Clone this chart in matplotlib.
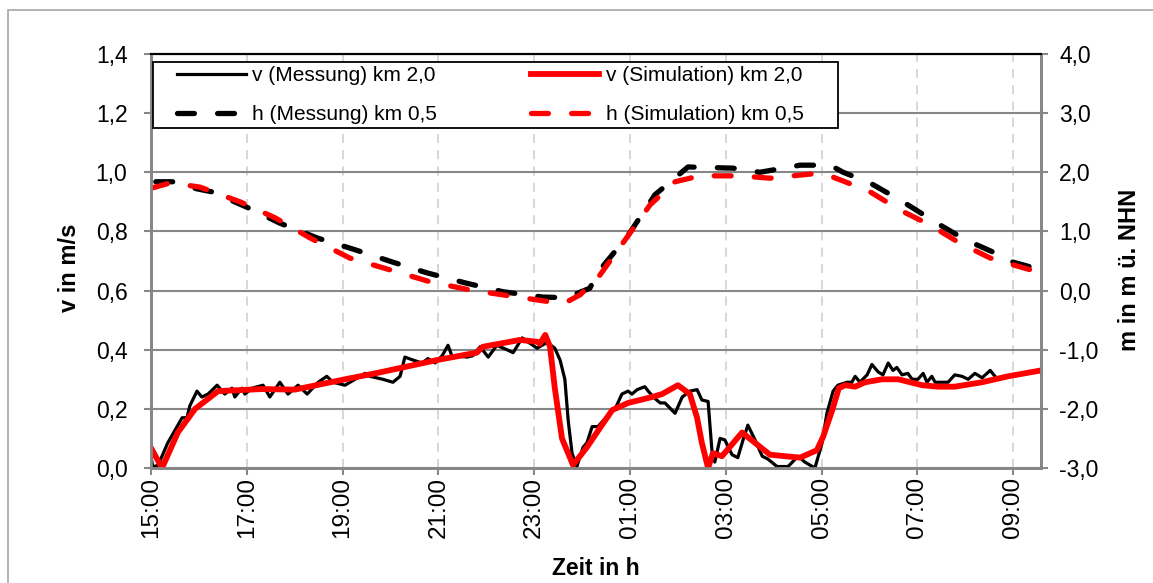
import matplotlib.pyplot as plt
from matplotlib.patches import Rectangle
from matplotlib.lines import Line2D

plt.rcParams['font.family'] = ['Liberation Sans', 'DejaVu Sans']

# Zeit in Stunden (15 = 15:00, Werte > 24 = Folgetag)
t_v_mess = [15.00, 15.04, 15.15, 15.35, 15.65, 15.75, 15.81, 15.96, 16.06, 16.19,
            16.38, 16.54, 16.69, 16.75, 16.90, 16.96, 17.11, 17.34, 17.48, 17.69,
            17.86, 18.07, 18.26, 18.49, 18.67, 18.80, 19.05, 19.26, 19.47, 19.57,
            19.84, 20.05, 20.20, 20.30, 20.47, 20.66, 20.78, 20.93, 21.08, 21.20,
            21.28, 21.60, 21.72, 21.87, 22.04, 22.22, 22.43, 22.56, 22.75, 23.06,
            23.27, 23.43, 23.54, 23.64, 23.71, 23.79, 23.89, 24.02, 24.10, 24.21,
            24.33, 24.44, 24.58, 24.69, 24.83, 24.96, 25.04, 25.15, 25.31, 25.38,
            25.52, 25.63, 25.73, 25.94, 26.09, 26.25, 26.40, 26.50, 26.63, 26.71,
            26.77, 26.88, 26.98, 27.13, 27.25, 27.36, 27.46, 27.61, 27.76, 27.88,
            28.07, 28.30, 28.51, 28.65, 28.86, 29.01, 29.11, 29.24, 29.34, 29.53,
            29.63, 29.70, 29.80, 29.95, 30.05, 30.18, 30.28, 30.39, 30.49, 30.57,
            30.68, 30.80, 30.89, 31.01, 31.12, 31.20, 31.30, 31.37, 31.64, 31.78,
            31.93, 32.06, 32.20, 32.35, 32.52, 32.62]
v_mess = [0.037, 0.003, 0.010, 0.085, 0.170, 0.170, 0.210, 0.260, 0.240, 0.250,
          0.280, 0.250, 0.270, 0.240, 0.270, 0.250, 0.270, 0.280, 0.240, 0.290,
          0.250, 0.280, 0.250, 0.290, 0.310, 0.290, 0.280, 0.300, 0.320, 0.310,
          0.300, 0.290, 0.310, 0.375, 0.365, 0.355, 0.370, 0.355, 0.380, 0.415,
          0.380, 0.375, 0.380, 0.410, 0.375, 0.415, 0.400, 0.390, 0.440, 0.405,
          0.425, 0.405, 0.365, 0.300, 0.160, 0.050, 0.005, 0.070, 0.085, 0.140,
          0.140, 0.160, 0.185, 0.200, 0.250, 0.260, 0.250, 0.265, 0.275, 0.260,
          0.235, 0.220, 0.220, 0.185, 0.240, 0.260, 0.265, 0.230, 0.225, 0.060,
          0.020, 0.100, 0.095, 0.045, 0.035, 0.095, 0.145, 0.095, 0.040, 0.030,
          0.005, 0.005, 0.040, 0.020, 0.000, 0.085, 0.185, 0.260, 0.280, 0.290,
          0.290, 0.310, 0.290, 0.315, 0.350, 0.325, 0.315, 0.355, 0.330, 0.340,
          0.315, 0.320, 0.300, 0.300, 0.320, 0.290, 0.310, 0.290, 0.290, 0.315,
          0.310, 0.300, 0.320, 0.305, 0.330, 0.310]

t_v_sim = [15.00, 15.23, 15.56, 15.92, 16.40, 17.32, 18.00, 19.05, 19.68, 20.97,
           21.80, 21.93, 22.70, 23.06, 23.12, 23.23, 23.33, 23.43, 23.58, 23.81,
           24.10, 24.37, 24.63, 24.96, 25.46, 25.67, 26.00, 26.25, 26.40, 26.50,
           26.63, 26.73, 26.92, 27.34, 27.65, 27.92, 28.55, 28.90, 29.03, 29.22,
           29.36, 29.49, 29.70, 29.91, 30.26, 30.60, 31.10, 31.43, 31.78, 32.35,
           32.89, 33.58]
v_sim = [0.068, 0.000, 0.120, 0.200, 0.260, 0.267, 0.265, 0.300, 0.320, 0.365,
         0.390, 0.410, 0.433, 0.427, 0.420, 0.450, 0.410, 0.270, 0.100, 0.010,
         0.070, 0.135, 0.196, 0.220, 0.240, 0.250, 0.280, 0.250, 0.170, 0.085,
         0.000, 0.050, 0.040, 0.120, 0.080, 0.045, 0.035, 0.060, 0.105, 0.195,
         0.270, 0.280, 0.275, 0.290, 0.300, 0.300, 0.280, 0.275, 0.275, 0.290,
         0.310, 0.330]

t_h_mess = [15.10, 15.48, 15.96, 16.27, 17.00, 17.69, 18.47, 19.26, 20.05, 20.76,
            21.56, 22.35, 23.18, 23.68, 24.16, 24.37, 24.94, 25.52, 26.21, 27.15,
            27.71, 28.55, 29.18, 29.45, 30.01, 30.64, 31.47, 32.00, 32.72, 33.00,
            33.58]
h_mess = [1.84, 1.84, 1.72, 1.67, 1.41, 1.14, 0.89, 0.69, 0.48, 0.30,
          0.13, -0.02, -0.11, -0.12, 0.04, 0.35, 0.91, 1.62, 2.09, 2.07,
          2.00, 2.12, 2.12, 2.00, 1.82, 1.53, 1.11, 0.86, 0.60, 0.48,
          0.35]

t_h_sim = [15.00, 15.40, 16.02, 16.86, 17.59, 18.32, 19.15, 19.99, 20.82, 21.66,
           22.49, 23.33, 23.64, 23.96, 24.37, 24.90, 25.42, 25.94, 26.46, 27.30,
           27.92, 28.76, 29.07, 29.49, 30.01, 30.64, 31.26, 31.89, 32.52, 32.93,
           33.58]
h_sim = [1.73, 1.82, 1.75, 1.50, 1.23, 0.89, 0.55, 0.35, 0.15, 0.01,
         -0.09, -0.19, -0.21, -0.07, 0.26, 0.86, 1.45, 1.84, 1.94, 1.94,
         1.90, 1.97, 1.97, 1.84, 1.67, 1.36, 1.11, 0.80, 0.55, 0.45,
         0.30]

x_ticks = list(range(15, 34, 2))
x_labels = ['%02d:00' % (h % 24) for h in x_ticks]
v_ticks = [0.0, 0.2, 0.4, 0.6, 0.8, 1.0, 1.2, 1.4]
m_ticks = [-3, -2, -1, 0, 1, 2, 3, 4]

labels = ['v (Messung) km 2,0', 'h (Messung) km 0,5',
          'v (Simulation) km 2,0', 'h (Simulation) km 0,5']

W, H = 1153, 583
grid_col = '#878787'

fig = plt.figure(figsize=(W / 100, H / 100), dpi=100)
fig.add_artist(Rectangle((8 / W, -0.1), 1.2, 1 - 10 / H + 0.1, transform=fig.transFigure,
                         fill=False, edgecolor='#a6a6a6', lw=1.2))

ax = fig.add_axes([151 / W, 1 - 468 / H, 890 / W, 414 / H])
ax2 = ax.twinx()

ax.plot(t_v_mess, v_mess, color='black', lw=2.3, solid_joinstyle='round', zorder=3)
ax.plot(t_v_sim, v_sim, color='#ff0000', lw=4.2, solid_joinstyle='round', zorder=4)

dash = dict(lw=3.8, dashes=(3.2, 4.4), dash_capstyle='round')
ax2.plot(t_h_mess, h_mess, color='black', **dash)
ax2.plot(t_h_sim, h_sim, color='#ff0000', **dash)

ax.set_xlim(15, 33.58)
ax.set_ylim(0, 1.4)
ax2.set_ylim(-3, 4)

ax.set_xticks(x_ticks)
ax.set_xticklabels(x_labels, rotation=90, fontsize=17.5)
ax.set_yticks(v_ticks)
ax.set_yticklabels([('%.1f' % v).replace('.', ',') for v in v_ticks], fontsize=16.5)
ax2.set_yticks(m_ticks)
ax2.set_yticklabels([('%.1f' % m).replace('.', ',') for m in m_ticks], fontsize=16.5)

ax.set_axisbelow(True)
ax.yaxis.grid(True, color=grid_col, lw=1.5)
ax.xaxis.grid(True, color='#d4d4d4', lw=1.3, ls=(0, (5, 4)))

ax.tick_params(axis='x', direction='out', length=5, width=1.5, color=grid_col, pad=1.5)
ax.tick_params(axis='y', direction='out', length=5, width=1.5, color=grid_col, pad=12)
ax2.tick_params(axis='y', direction='out', length=5, width=1.5, color=grid_col, pad=8)

for a in (ax, ax2):
    for side in ('left', 'right', 'bottom'):
        a.spines[side].set_color(grid_col)
        a.spines[side].set_linewidth(2)
    a.spines['top'].set_color('black')
    a.spines['top'].set_linewidth(1.5)

# Legendenrahmen
ax2.add_patch(Rectangle((2 / 890, 340 / 414), 685 / 890, 66 / 414, transform=ax2.transAxes,
                        facecolor='white', edgecolor='black', lw=1.3, zorder=5))
handles = [Line2D([], [], color='black', lw=2.3),
           Line2D([], [], color='black', **dash),
           Line2D([], [], color='#ff0000', lw=4.2),
           Line2D([], [], color='#ff0000', **dash)]
leg = ax2.legend(handles, labels, ncol=2, loc='upper left', frameon=False,
                 bbox_to_anchor=(26 / 890, 402 / 414), borderaxespad=0, borderpad=0,
                 fontsize=15, handlelength=3.3, handletextpad=0.3,
                 columnspacing=4.5, labelspacing=0.98)
leg.set_zorder(6)

fig.text(70 / W, 1 - 268 / H, 'v in m/s', rotation=90, ha='center', va='center',
         fontsize=17, fontweight='bold')
fig.text(1129 / W, 1 - 270 / H, 'm in m ü. NHN', rotation=90, ha='center', va='center',
         fontsize=17, fontweight='bold')
fig.text(596 / W, 3 / H, 'Zeit in h', ha='center', va='bottom',
         fontsize=16.5, fontweight='bold')

fig.savefig('out.png', dpi=100)
